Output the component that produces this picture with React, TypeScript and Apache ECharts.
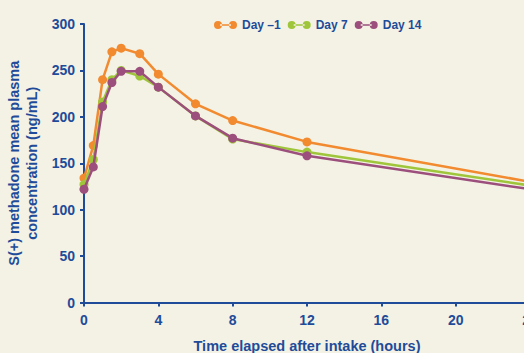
import React, { useEffect, useRef } from "react";
import * as echarts from "echarts";

const times = [0, 0.5, 1, 1.5, 2, 3, 4, 6, 8, 12, 24];
const dayMinus1 = [134, 169, 240, 270, 274, 268, 246, 214, 196, 173, 130];
const day7 = [127, 154, 216, 240, 250, 244, 232, 201, 176, 162, 126];
const day14 = [122, 146, 211, 237, 249, 249, 232, 201, 177, 158, 122];
const seriesNames = ["Day \u20131", "Day 7", "Day 14"];
const colors = ["#f28a30", "#9fc63b", "#9c4f7c"];
const xTicks = [0, 4, 8, 12, 16, 20, 24];
const yTicks = [0, 50, 100, 150, 200, 250, 300];

const BLUE = "#1f4b99";
const FONT = "Liberation Sans, Arial, sans-serif";
const legendIcon =
  "path://M0,4 a4,4 0 1,0 8,0 a4,4 0 1,0 -8,0 Z M15,4 a4,4 0 1,0 8,0 a4,4 0 1,0 -8,0 Z M6,3.2 L17,3.2 L17,4.8 L6,4.8 Z";

export default function App() {
  const ref = useRef<HTMLDivElement>(null);
  useEffect(() => {
    if (!ref.current) return;
    const chart = echarts.init(ref.current, null, { renderer: "svg" });
    const dataSets = [dayMinus1, day7, day14];
    chart.setOption({
      animation: false,
      backgroundColor: "#f3f2e5",
      textStyle: { fontFamily: FONT },
      legend: {
        top: 14,
        left: 209,
        itemWidth: 23,
        itemHeight: 8,
        itemGap: 7,
        icon: legendIcon,
        textStyle: { color: BLUE, fontWeight: "bold", fontSize: 12, fontFamily: FONT },
        data: seriesNames,
      },
      grid: {
        left: 84,
        top: 24,
        width: 446,
        height: 278.5,
        containLabel: false,
        outerBoundsMode: "none",
      },
      xAxis: {
        type: "value",
        min: 0,
        max: 24,
        interval: 4,
        name: "Time elapsed after intake (hours)",
        nameLocation: "middle",
        nameGap: 36,
        nameTextStyle: { color: BLUE, fontWeight: "bold", fontSize: 14.5, fontFamily: FONT },
        axisLine: { show: true, lineStyle: { color: BLUE, width: 2 } },
        axisTick: { show: true, length: 4, lineStyle: { color: BLUE, width: 2 } },
        axisLabel: {
          color: BLUE,
          fontWeight: "bold",
          fontSize: 14,
          margin: 10,
          fontFamily: FONT,
          customValues: xTicks,
        },
        splitLine: { show: false },
      },
      yAxis: {
        type: "value",
        min: 0,
        max: 300,
        interval: 50,
        name: "S(+) methadone mean plasma\nconcentration (ng/mL)",
        nameLocation: "middle",
        nameGap: 38,
        nameRotate: 90,
        nameTextStyle: {
          color: BLUE,
          fontWeight: "bold",
          fontSize: 14.5,
          lineHeight: 17.5,
          fontFamily: FONT,
        },
        axisLine: { show: true, lineStyle: { color: BLUE, width: 2 } },
        axisTick: { show: true, length: 4, lineStyle: { color: BLUE, width: 2 } },
        axisLabel: {
          color: BLUE,
          fontWeight: "bold",
          fontSize: 14,
          margin: 9,
          fontFamily: FONT,
          customValues: yTicks,
        },
        splitLine: { show: false },
      },
      series: dataSets.map((d, i) => ({
        name: seriesNames[i],
        type: "line",
        data: times.map((t, j) => [t, d[j]]),
        color: colors[i],
        symbol: "circle",
        symbolSize: 9,
        lineStyle: { width: 2.5, color: colors[i] },
        itemStyle: { color: colors[i] },
        clip: false,
        z: 2 + i,
      })),
    });
    return () => chart.dispose();
  }, []);
  return (
    <div
      ref={ref}
      style={{ position: "fixed", left: 0, top: 0, width: 524, height: 353, overflow: "hidden" }}
    />
  );
}
